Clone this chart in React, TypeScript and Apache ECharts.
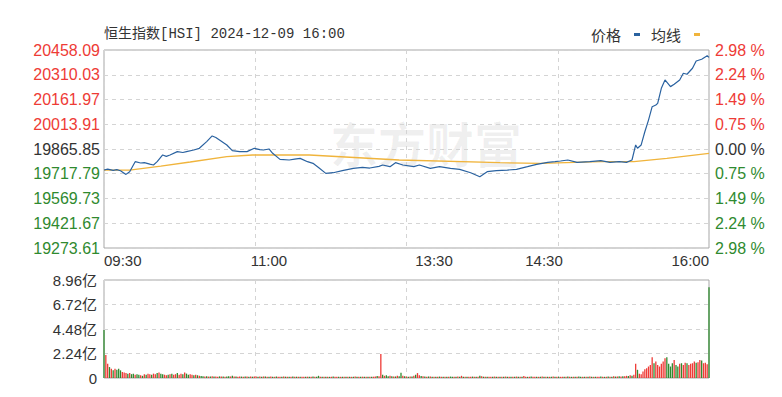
import React, { useEffect, useRef } from 'react';
import * as echarts from 'echarts';

const TITLE = '恒生指数[HSI] 2024-12-09 16:00';
const PREV_CLOSE = 19865.85;
const PRICE_TICKS = [19273.61, 19421.67, 19569.73, 19717.79, 19865.85, 20013.91, 20161.97, 20310.03, 20458.09];
const PCT_LABELS = ['2.98 %', '2.24 %', '1.49 %', '0.75 %', '0.00 %', '0.75 %', '1.49 %', '2.24 %', '2.98 %'];
const TIME_TICKS = [0, 90, 180, 240, 330];
const TIME_LABELS = ['09:30', '11:00', '13:30', '14:30', '16:00'];
const VOL_MAX = 8.96;
const VOL_STEP = 2.24;

// minute offset from 09:30 (trading minutes) and price
const priceMinutes = [
  0, 2, 5, 7, 9, 12, 14, 17, 20, 22, 25, 27, 29, 32, 34, 36, 40, 43, 45, 49,
  52, 56, 59, 61, 63, 67, 70, 74, 78, 82, 85, 87, 90, 92, 96, 101, 104, 107, 111, 114,
  117, 121, 125, 130, 136, 141, 145, 150, 152, 156, 159, 163, 169, 172, 178, 183, 189, 194, 200, 205,
  209, 214, 220, 225, 231, 236, 242, 246, 249, 253, 258, 265, 271, 276, 281, 285, 288, 290, 291, 293,
  295, 297, 299, 301, 302, 304, 306, 309, 311, 314, 316, 318, 321, 323, 326, 329, 330,
];
const priceValues = [
  19740, 19745, 19738, 19742, 19736, 19714, 19730, 19790, 19782, 19784, 19775, 19770, 19790, 19830, 19822, 19830, 19850, 19845, 19850, 19860,
  19870, 19910, 19944, 19935, 19920, 19890, 19856, 19850, 19850, 19870, 19862, 19860, 19866, 19840, 19804, 19800, 19805, 19810, 19790, 19780,
  19755, 19720, 19724, 19736, 19750, 19756, 19752, 19762, 19770, 19760, 19784, 19770, 19760, 19770, 19750, 19760, 19750, 19744, 19724, 19700,
  19730, 19736, 19740, 19744, 19760, 19774, 19786, 19790, 19794, 19800, 19786, 19790, 19796, 19786, 19790, 19786, 19800, 19890, 19870, 19890,
  19969, 20039, 20119, 20129, 20139, 20229, 20279, 20239, 20253, 20279, 20319, 20313, 20349, 20392, 20403, 20424, 20414,
];

const avgMinutes = [0, 14, 31, 47, 67, 81, 101, 112, 161, 216, 238, 271, 289, 307, 330];
const avgValues = [19740, 19740, 19764, 19788, 19820, 19830, 19830, 19830, 19800, 19784, 19780, 19790, 19790, 19810, 19840];

// volume per minute, 亿
const volumes = [
  4.4, 2.1, 1.3, 1.0, 0.85, 0.7, 0.85, 0.75, 0.85, 0.7,
  0.55, 0.5, 0.45, 0.4, 0.45, 0.35, 0.4, 0.3, 0.35, 0.3,
  0.25, 0.2, 0.35, 0.3, 0.4, 0.35, 0.3, 0.4, 0.35, 0.45,
  0.5, 0.4, 0.35, 0.3, 0.25, 0.3, 0.35, 0.4, 0.3, 0.35,
  0.45, 0.3, 0.4, 0.35, 0.5, 0.4, 0.3, 0.35, 0.3, 0.25,
  0.3, 0.25, 0.2, 0.18, 0.15, 0.14, 0.15, 0.13, 0.14, 0.15,
  0.13, 0.14, 0.12, 0.15, 0.13, 0.14, 0.12, 0.13, 0.15, 0.14,
  0.2, 0.14, 0.13, 0.12, 0.14, 0.13, 0.12, 0.14, 0.13, 0.12,
  0.13, 0.12, 0.14, 0.13, 0.12, 0.13, 0.12, 0.14, 0.13, 0.12,
  0.12, 0.13, 0.12, 0.11, 0.13, 0.12, 0.11, 0.12, 0.13, 0.12,
  0.12, 0.11, 0.12, 0.13, 0.11, 0.12, 0.11, 0.12, 0.11, 0.12,
  0.11, 0.12, 0.11, 0.12, 0.13, 0.12, 0.11, 0.2, 0.12, 0.11,
  0.12, 0.11, 0.12, 0.11, 0.12, 0.13, 0.12, 0.11, 0.12, 0.11,
  0.12, 0.11, 0.12, 0.11, 0.12, 0.11, 0.12, 0.13, 0.11, 0.12,
  0.11, 0.12, 0.11, 0.12, 0.11, 0.12, 0.11, 0.12, 0.13, 0.18,
  0.15, 2.2, 0.3, 0.2, 0.25, 0.15, 0.2, 0.15, 0.13, 0.14,
  0.2, 0.15, 0.48, 0.2, 0.15, 0.13, 0.12, 0.14, 0.13, 0.2,
  0.3, 0.45, 0.25, 0.18, 0.15, 0.13, 0.12, 0.14, 0.13, 0.12,
  0.12, 0.11, 0.12, 0.13, 0.12, 0.11, 0.12, 0.11, 0.12, 0.13,
  0.12, 0.11, 0.12, 0.13, 0.12, 0.2, 0.12, 0.11, 0.12, 0.11,
  0.12, 0.13, 0.12, 0.11, 0.12, 0.2, 0.15, 0.12, 0.11, 0.12,
  0.12, 0.11, 0.12, 0.13, 0.12, 0.11, 0.12, 0.11, 0.12, 0.13,
  0.12, 0.11, 0.12, 0.11, 0.12, 0.13, 0.12, 0.11, 0.12, 0.18,
  0.12, 0.11, 0.12, 0.13, 0.12, 0.11, 0.12, 0.11, 0.12, 0.13,
  0.12, 0.11, 0.12, 0.11, 0.12, 0.13, 0.12, 0.11, 0.12, 0.11,
  0.12, 0.11, 0.12, 0.13, 0.12, 0.11, 0.12, 0.11, 0.12, 0.13,
  0.12, 0.11, 0.12, 0.11, 0.12, 0.13, 0.12, 0.11, 0.12, 0.11,
  0.12, 0.13, 0.12, 0.11, 0.12, 0.13, 0.12, 0.11, 0.15, 0.13,
  0.14, 0.15, 0.13, 0.16, 0.15, 0.2, 0.18, 0.25, 0.2, 0.3,
  1.3, 0.75, 0.4, 0.35, 0.6, 0.8, 0.9, 1.05, 1.2, 1.9,
  1.35, 1.5, 1.2, 1.05, 1.3, 1.5, 1.8, 1.9, 1.3, 1.05,
  1.35, 1.65, 1.2, 1.05, 1.3, 1.35, 1.2, 1.4, 1.35, 1.2,
  1.3, 1.35, 1.5, 1.4, 1.45, 1.65, 1.6, 1.35, 1.4, 1.25,
  8.3,
];

// R = up minute, G = down minute
const volumeDirs = [
  'GRRGRGRGGG', 'RRRGRGGRGG', 'RGRGRRGRRG', 'RGGRRGRGRR', 'GRRGRGGRRG',
  'RGRGGRGRGR', 'GRRGRGRGGR', 'GRGRRGRGRG', 'RGRRGRGRGR', 'GRGRGRRGRG',
  'RGRGRGRGRR', 'GRGRGRGGRG', 'RGRGRGRRGR', 'GRGRGRGRGR', 'GRGRGRGRRG',
  'RRGRGGRGRG', 'RGGRGRGRGR', 'GRRGRGRGRG', 'RGRGRGRGRG', 'GRGRGRGRGR',
  'RGRGRGRGRG', 'RRGRGRGRGR', 'GRGRGRGRGR', 'RGRGRRGRGR', 'GRGRGRGRGR',
  'RGRGRGRGRG', 'GRGRGRGRGR', 'RGRGRGRGRG', 'RGRGRRGRGR', 'RGRRRRRRRR',
  'GRRRRRRGGG', 'GRGGRGRRGR', 'RRRGRRGRRR', 'G',
].join('');

const RED = '#ee3b36';
const GREEN = '#2f8a2f';

export default function App() {
  const ref = useRef<HTMLDivElement>(null);

  useEffect(() => {
    const chart = echarts.init(ref.current!, null, { renderer: 'svg' });
    const gridLine = { show: true, lineStyle: { color: '#d4d4d4', type: [4, 4], width: 1 } };
    const tickIndex = (v: any) => {
      const n = parseFloat(v);
      let best = 0;
      PRICE_TICKS.forEach((t, i) => {
        if (Math.abs(t - n) < Math.abs(PRICE_TICKS[best] - n)) best = i;
      });
      return best;
    };
    const priceColor = (v: any) => {
      const n = parseFloat(v);
      if (Math.abs(n - PREV_CLOSE) < 0.01) return '#333333';
      return n > PREV_CLOSE ? RED : GREEN;
    };
    const pMin = PRICE_TICKS[0];
    const pMax = PRICE_TICKS[PRICE_TICKS.length - 1];

    const option: any = {
      animation: false,
      backgroundColor: '#ffffff',
      textStyle: { fontFamily: '"Liberation Sans", "Noto Sans CJK SC", sans-serif' },
      title: {
        text: TITLE,
        left: 104,
        top: 27,
        padding: 0,
        textStyle: {
          fontSize: 14,
          fontWeight: 'normal',
          color: '#333333',
          fontFamily: '"Liberation Mono", "Noto Sans CJK SC", monospace',
        },
      },
      legend: {
        right: 82,
        top: 27,
        padding: 0,
        icon: 'rect',
        itemWidth: 6,
        itemHeight: 3,
        itemGap: 11,
        align: 'right',
        textStyle: { fontSize: 15, color: '#333333', fontFamily: '"Noto Sans CJK SC", sans-serif', padding: [0, 8, 0, 0] },
        data: ['价格', '均线'],
      },
      graphic: [
        {
          type: 'text',
          left: 330,
          top: 118,
          z: -10,
          silent: true,
          style: {
            text: '东方财富',
            font: 'bold 48px "Noto Sans CJK SC"',
            fill: 'rgba(0,0,0,0.06)',
          },
        },
      ],
      grid: [
        { left: 104, right: 73, top: 50, height: 198, show: true, borderColor: '#a6a6a6', borderWidth: 1 },
        { left: 104, right: 73, top: 280, height: 98, show: true, borderColor: '#a6a6a6', borderWidth: 1 },
      ],
      xAxis: [
        {
          type: 'value',
          gridIndex: 0,
          min: 0,
          max: 330,
          interval: 82.5,
          axisLine: { show: false },
          axisTick: { show: false },
          splitLine: gridLine,
          axisLabel: {
            customValues: TIME_TICKS,
            formatter: (v: number) => TIME_LABELS[TIME_TICKS.indexOf(v)] ?? '',
            fontSize: 15,
            color: '#333333',
            margin: 5,
            alignMinLabel: 'left',
            alignMaxLabel: 'right',
          },
        },
        {
          type: 'value',
          gridIndex: 1,
          min: 0,
          max: 330,
          interval: 82.5,
          axisLine: { show: false },
          axisTick: { show: false },
          splitLine: gridLine,
          axisLabel: { show: false },
        },
      ],
      yAxis: [
        {
          type: 'value',
          gridIndex: 0,
          min: pMin,
          max: pMax,
          axisLine: { show: false },
          axisTick: { show: false, customValues: PRICE_TICKS },
          splitLine: gridLine,
          axisLabel: {
            customValues: PRICE_TICKS,
            formatter: (v: number) => PRICE_TICKS[tickIndex(v)].toFixed(2),
            color: priceColor,
            fontSize: 16,
            margin: 4,
          },
        },
        {
          type: 'value',
          gridIndex: 0,
          position: 'right',
          min: pMin,
          max: pMax,
          axisLine: { show: false },
          axisTick: { show: false, customValues: PRICE_TICKS },
          splitLine: { show: false },
          axisLabel: {
            customValues: PRICE_TICKS,
            formatter: (v: number) => PCT_LABELS[tickIndex(v)],
            color: priceColor,
            fontSize: 16,
            margin: 6,
          },
        },
        {
          type: 'value',
          gridIndex: 1,
          min: 0,
          max: VOL_MAX,
          interval: VOL_STEP,
          axisLine: { show: false },
          axisTick: { show: false },
          splitLine: gridLine,
          axisLabel: {
            formatter: (v: number) => (v === 0 ? '0' : v.toFixed(2) + '亿'),
            color: '#333333',
            fontSize: 15,
            margin: 7,
            fontFamily: '"Liberation Sans", "Noto Sans CJK SC", sans-serif',
          },
        },
      ],
      series: [
        {
          name: '均线',
          type: 'line',
          xAxisIndex: 0,
          yAxisIndex: 0,
          symbol: 'none',
          data: avgMinutes.map((m, i) => [m, avgValues[i]]),
          lineStyle: { color: '#f0b43c', width: 1.3 },
          itemStyle: { color: '#f0b43c' },
          z: 2,
        },
        {
          name: '价格',
          type: 'line',
          xAxisIndex: 0,
          yAxisIndex: 0,
          symbol: 'none',
          data: priceMinutes.map((m, i) => [m, priceValues[i]]),
          lineStyle: { color: '#2a62a0', width: 1.2 },
          itemStyle: { color: '#2a62a0' },
          z: 3,
        },
        {
          name: '成交量',
          type: 'bar',
          xAxisIndex: 1,
          yAxisIndex: 2,
          barWidth: 1.3,
          data: volumes.map((v, i) => ({
            value: [i, v],
            itemStyle: { color: volumeDirs[i] === 'R' ? RED : GREEN },
          })),
        },
      ],
    };
    chart.setOption(option);
    return () => chart.dispose();
  }, []);

  return (
    <div
      ref={ref}
      style={{ position: 'fixed', left: 0, top: 0, width: 782, height: 397, background: '#ffffff' }}
    />
  );
}
